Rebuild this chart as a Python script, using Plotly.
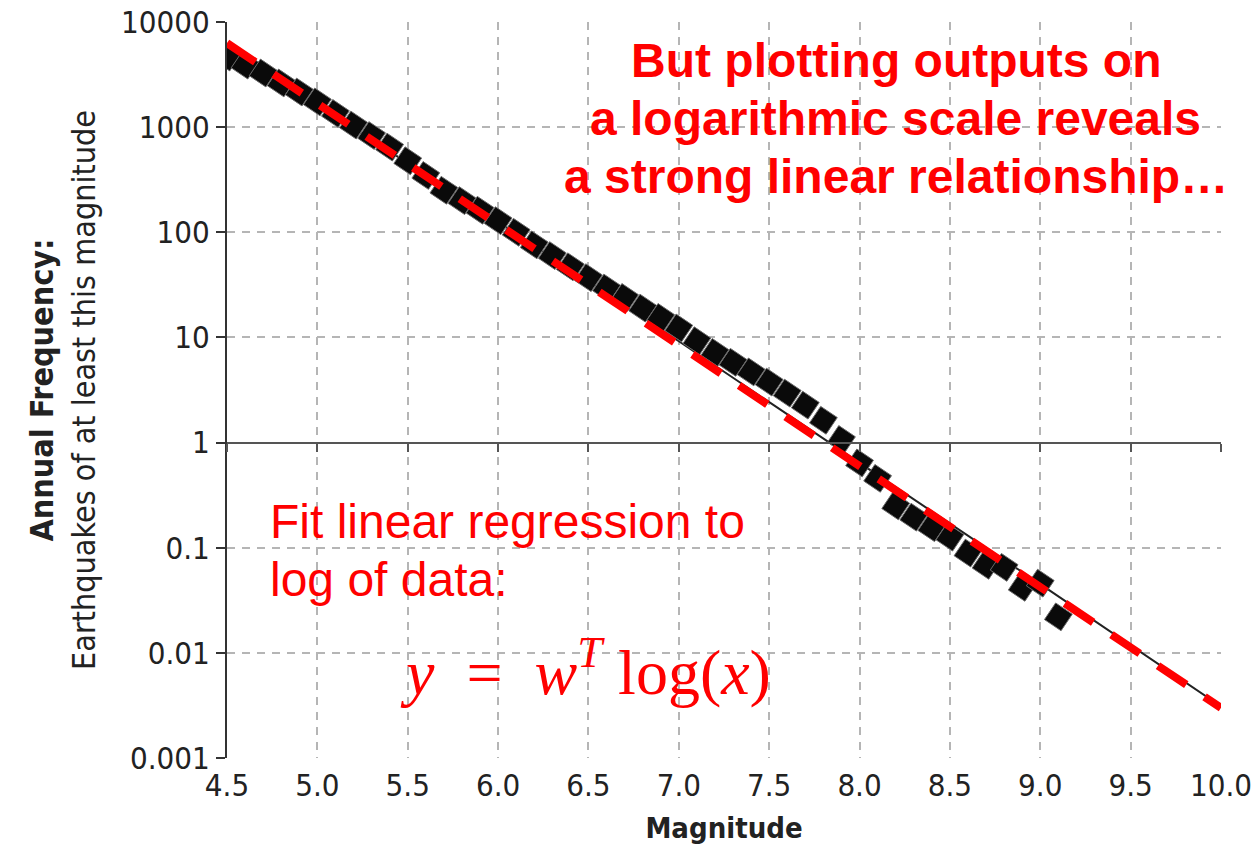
import plotly.graph_objects as go

# ---- data ----
magnitude = [4.5, 4.6, 4.7, 4.8, 4.9, 5.0, 5.1, 5.2, 5.3, 5.4, 5.5, 5.6, 5.7, 5.8, 5.9,
             6.0, 6.1, 6.2, 6.3, 6.4, 6.5, 6.6, 6.7, 6.8, 6.9, 7.0, 7.1, 7.2, 7.3, 7.4,
             7.5, 7.6, 7.7, 7.8, 7.9, 8.0, 8.1, 8.2, 8.3, 8.4, 8.5, 8.6, 8.7, 8.8, 8.9,
             9.0, 9.1]
annual_freq = [4645, 3890, 3273, 2630, 2158, 1738, 1349, 1047, 832, 646, 479, 347, 251, 200, 162,
               129, 100, 76, 60, 47, 37, 29.5, 24, 19, 15.5, 12.3, 9.3, 7.2, 5.8, 4.7,
               3.76, 2.95, 2.27, 1.63, 1.07, 0.64, 0.457, 0.25, 0.195, 0.155, 0.126, 0.089, 0.068, 0.065, 0.042,
               0.046, 0.022]

# original chart's thin fit curve
fit_x = [4.5, 6.0, 7.0, 7.5, 8.0, 9.0, 10.0]
fit_y = [6000, 125, 9.2, 2.45, 0.64, 0.045, 0.0031]

# red dashed regression line (log-linear)
reg_x = [4.5, 10.0]
reg_y = [6300, 0.003]

y_tickvals = [0.001, 0.01, 0.1, 1, 10, 100, 1000, 10000]
y_ticktext = ["0.001", "0.01", "0.1", "1", "10", "100", "1000", "10000"]

AXFONT = "Liberation Sans Narrow, DejaVu Sans Condensed, Liberation Sans, Arial"
RED = "#ff0000"

fig = go.Figure()

fig.add_trace(go.Scatter(x=fit_x, y=fit_y, mode="lines",
                         line=dict(color="#222222", width=2), hoverinfo="skip"))
fig.add_trace(go.Scatter(x=magnitude, y=annual_freq, mode="markers",
                         marker=dict(symbol="square", size=20, angle=34, color="#0a0a0a",
                                     line=dict(color="#6a6a6a", width=1))))
fig.add_trace(go.Scatter(x=reg_x, y=reg_y, mode="lines",
                         line=dict(color=RED, width=8, dash="34px,22px"), hoverinfo="skip"))
# invisible trace so that the axis line at y = 1 is drawn
fig.add_trace(go.Scatter(x=fit_x, y=fit_y, xaxis="x2", mode="markers",
                         marker=dict(opacity=0), hoverinfo="skip"))

grid = dict(showgrid=True, gridcolor="#b5b5b5", gridwidth=1.5, griddash="8px,7px")

fig.update_layout(
    width=1259, height=845,
    margin=dict(l=227, r=38, t=22, b=87),
    paper_bgcolor="white", plot_bgcolor="white",
    showlegend=False,
    xaxis=dict(range=[4.5, 10.0], tick0=4.5, dtick=0.5, tickformat=".1f",
               automargin=False,
               zeroline=False, showline=False, ticks="",
               tickfont=dict(family=AXFONT, size=31, color="#222"),
               ticklabelstandoff=6,
               title=dict(text="<b>Magnitude</b>", standoff=18,
                          font=dict(family=AXFONT, size=29, color="#222")),
               **grid),
    xaxis2=dict(range=[4.5, 10.0], overlaying="x", anchor="free", position=3/7,
                side="bottom", tick0=4.5, dtick=0.5, showticklabels=False,
                showgrid=False, zeroline=False, automargin=False,
                showline=True, linecolor="#555", linewidth=2,
                ticks="outside", ticklen=8, tickwidth=2, tickcolor="#555"),
    yaxis=dict(type="log", range=[-3, 4], tickvals=y_tickvals, ticktext=y_ticktext,
               automargin=False,
               showline=True, linecolor="#333", linewidth=2,
               ticks="outside", ticklen=9, tickwidth=2, tickcolor="#333",
               zeroline=False,
               tickfont=dict(family=AXFONT, size=31, color="#222"),
               title=dict(text="<b>Annual Frequency:</b><br>Earthquakes of at least this magnitude",
                          standoff=16,
                          font=dict(family=AXFONT, size=32, color="#222")),
               **grid),
)

title_lines = ["But plotting outputs on", "a logarithmic scale reveals",
               "a strong linear relationship…"]
for i, t in enumerate(title_lines):
    fig.add_annotation(text=f"<b>{t}</b>", xref="paper", yref="paper",
                       x=0.673, y=0.948 - i * 0.0788, xanchor="center", yanchor="middle",
                       showarrow=False,
                       font=dict(family="Liberation Sans, Arial", size=48, color=RED))

fit_lines = ["Fit linear regression to", "log of data:"]
for i, t in enumerate(fit_lines):
    fig.add_annotation(text=t, xref="paper", yref="paper",
                       x=0.041, y=0.3207 - i * 0.0788, xanchor="left", yanchor="middle",
                       showarrow=False,
                       font=dict(family="Liberation Sans, Arial", size=48, color=RED))

nb = "\u00a0"
eq = f"<i>y</i>{nb}{nb}={nb}{nb}<i>w</i><sup><i>T</i></sup>{nb}log(<i>x</i>)"
fig.add_annotation(text=eq, xref="paper", yref="paper",
                   x=0.172, y=0.123, xanchor="left", yanchor="middle", showarrow=False,
                   font=dict(family="Liberation Serif, DejaVu Serif, serif", size=64, color=RED))

fig.write_html("out.html")
